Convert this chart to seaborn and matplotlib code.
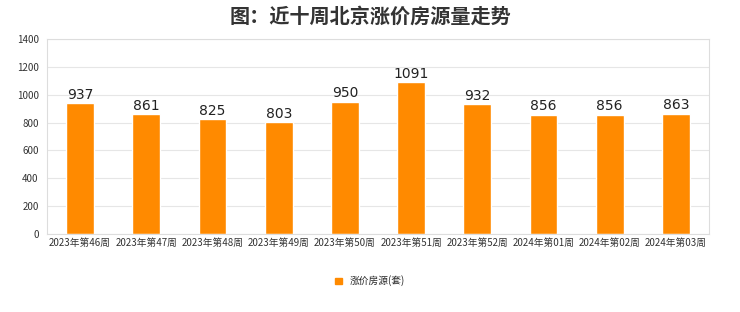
import matplotlib
matplotlib.use("Agg")
import matplotlib.pyplot as plt
import seaborn as sns
import pandas as pd
from matplotlib.patches import Patch

weeks = ["2023年第46周", "2023年第47周", "2023年第48周", "2023年第49周", "2023年第50周",
         "2023年第51周", "2023年第52周", "2024年第01周", "2024年第02周", "2024年第03周"]
values = [937, 861, 825, 803, 950, 1091, 932, 856, 856, 863]
yticks = [0, 200, 400, 600, 800, 1000, 1200, 1400]

sns.set_theme(style="white")
plt.rcParams['font.family'] = ['Noto Sans CJK SC', 'DejaVu Sans']

df = pd.DataFrame({"week": weeks, "value": values})
color = "#FF8A00"

fig = plt.figure(figsize=(7.4, 3.12), dpi=100)
ax = fig.add_axes([47/740, 1 - 234/312, (709-47)/740, (234-39)/312])
sns.barplot(data=df, x="week", y="value", color=color, width=0.42, ax=ax, saturation=1)

ax.set_ylim(0, 1400)
ax.set_yticks(yticks)
ax.set_yticklabels([str(t) for t in yticks], fontsize=7, color="#333333")
ax.set_xlim(-0.5, len(weeks) - 0.5)
ax.tick_params(axis='x', labelsize=7, colors="#333333", length=0, pad=3)
ax.tick_params(axis='y', length=0, pad=6)
ax.set_xlabel("")
ax.set_ylabel("")
ax.grid(axis='y', color="#e6e6e6", linewidth=0.8)
ax.set_axisbelow(True)
for s in ax.spines.values():
    s.set_color("#dddddd")
    s.set_linewidth(0.8)

for cont in ax.containers:
    ax.bar_label(cont, labels=[str(v) for v in values], fontsize=10, color="#222222",
                 padding=1, family="DejaVu Sans")

fig.text(0.5, 1 - 16/312, "图：近十周北京涨价房源量走势", ha="center", va="center",
         fontsize=14.5, fontweight="bold", color="#333333")

leg = fig.legend(handles=[Patch(color=color, label="涨价房源(套)")], loc="center",
                 bbox_to_anchor=(0.5, 1 - 281/312), frameon=False, fontsize=7,
                 handlelength=0.7, handleheight=0.7, handletextpad=0.8)

fig.savefig("out.png", dpi=100)
